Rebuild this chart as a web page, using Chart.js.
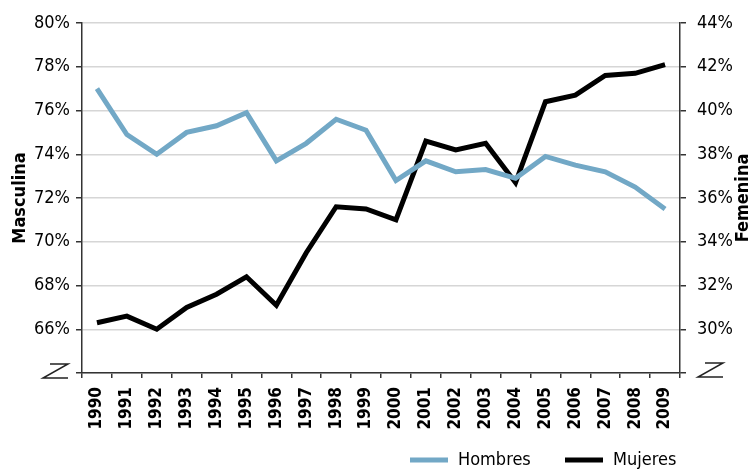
<!DOCTYPE html>
<html>
<head>
<meta charset="utf-8">
<script src="https://cdn.jsdelivr.net/npm/chart.js@4"></script>
<style>
  html,body{margin:0;padding:0;background:#fff;}
  #wrap{width:752px;height:471px;position:relative;}
</style>
</head>
<body>
<div id="wrap"><canvas id="chart" width="752" height="471"></canvas></div>
<script>
// chart data
const years = ["1990","1991","1992","1993","1994","1995","1996","1997","1998","1999",
               "2000","2001","2002","2003","2004","2005","2006","2007","2008","2009"];
const hombres = [77.0,74.9,74.0,75.0,75.3,75.9,73.7,74.5,75.6,75.1,
                 72.8,73.7,73.2,73.3,72.9,73.9,73.5,73.2,72.5,71.5];
const mujeres = [30.3,30.6,30.0,31.0,31.6,32.4,31.1,33.5,35.6,35.5,
                 35.0,38.6,38.2,38.5,36.7,40.4,40.7,41.6,41.7,42.1];
const leftTitle = "Masculina";
const rightTitle = "Femenina";

const FONT = "'Liberation Sans Narrow','DejaVu Sans Condensed','Roboto Condensed','Liberation Sans',sans-serif";
const BLUE = "#72a8c6";

// axis titles, break marks and legend drawn by hand
const extras = {
  id: "extras",
  afterDraw(chart){
    const ctx = chart.ctx, a = chart.chartArea;
    const mid = (a.top + a.bottom)/2;
    ctx.save();
    ctx.fillStyle = "#000";
    ctx.font = "bold 18px " + FONT;
    ctx.textAlign = "center"; ctx.textBaseline = "middle";
    [[20, leftTitle],[743, rightTitle]].forEach(([x,t])=>{
      ctx.save(); ctx.translate(x, mid); ctx.rotate(-Math.PI/2);
      ctx.fillText(t, 0, 0); ctx.restore();
    });
    // axis break "Z"
    ctx.strokeStyle = "#222"; ctx.lineWidth = 1.5;
    [[43,364],[698,363]].forEach(([x,y])=>{
      ctx.beginPath();
      ctx.moveTo(x+7,y); ctx.lineTo(x+25,y);
      ctx.lineTo(x,y+14); ctx.lineTo(x+25,y+14);
      ctx.stroke();
    });
    // legend
    ctx.font = "18px " + FONT;
    ctx.textAlign = "left";
    const pos = [410, 565];
    chart.data.datasets.forEach((ds,i)=>{
      const x = pos[i], y = 460;
      ctx.strokeStyle = ds.borderColor; ctx.lineWidth = 5;
      ctx.beginPath(); ctx.moveTo(x,y); ctx.lineTo(x+38,y); ctx.stroke();
      ctx.fillStyle = "#000";
      ctx.fillText(ds.label, x+48, y);
    });
    ctx.restore();
  }
};

new Chart(document.getElementById("chart"), {
  type: "line",
  data: {
    labels: years,
    datasets: [
      { label: "Hombres", data: hombres, yAxisID: "y", borderColor: BLUE, backgroundColor: BLUE,
        borderWidth: 5, pointRadius: 0, tension: 0, borderJoinStyle: "miter" },
      { label: "Mujeres", data: mujeres, yAxisID: "y1", borderColor: "#000", backgroundColor: "#000",
        borderWidth: 5, pointRadius: 0, tension: 0, borderJoinStyle: "miter" }
    ]
  },
  options: {
    responsive: false,
    animation: false,
    layout: { padding: { top: 23, left: 0, right: 0, bottom: 0 } },
    plugins: { legend: { display: false }, tooltip: { enabled: false } },
    scales: {
      x: {
        offset: true,
        grid: { offset: true, drawOnChartArea: false, tickLength: 5, tickColor: "#333", lineWidth: 1.5 },
        border: { color: "#333", width: 1.5 },
        ticks: { color: "#000", font: { family: FONT, size: 17, weight: "bold" },
                 minRotation: 90, maxRotation: 90, padding: 9, autoSkip: false },
        afterFit(s){ s.height = 98; }
      },
      y: {
        position: "left", min: 64, max: 80,
        grid: { color: "#d6d6d6", lineWidth: 1.5, tickColor: "#333", tickLength: 6 },
        border: { color: "#333", width: 1.5 },
        ticks: { stepSize: 2, color: "#000", padding: 6, font: { family: FONT, size: 18 },
                 callback: v => v === 64 ? "" : v + "%" },
        afterFit(s){ s.width = 82; }
      },
      y1: {
        position: "right", min: 28, max: 44,
        grid: { drawOnChartArea: false, tickColor: "#333", tickLength: 6, lineWidth: 1.5 },
        border: { color: "#333", width: 1.5 },
        ticks: { stepSize: 2, color: "#000", padding: 11, font: { family: FONT, size: 18 },
                 callback: v => v === 28 ? "" : v + "%" },
        afterFit(s){ s.width = 72; }
      }
    }
  },
  plugins: [extras]
});
</script>
</body>
</html>
